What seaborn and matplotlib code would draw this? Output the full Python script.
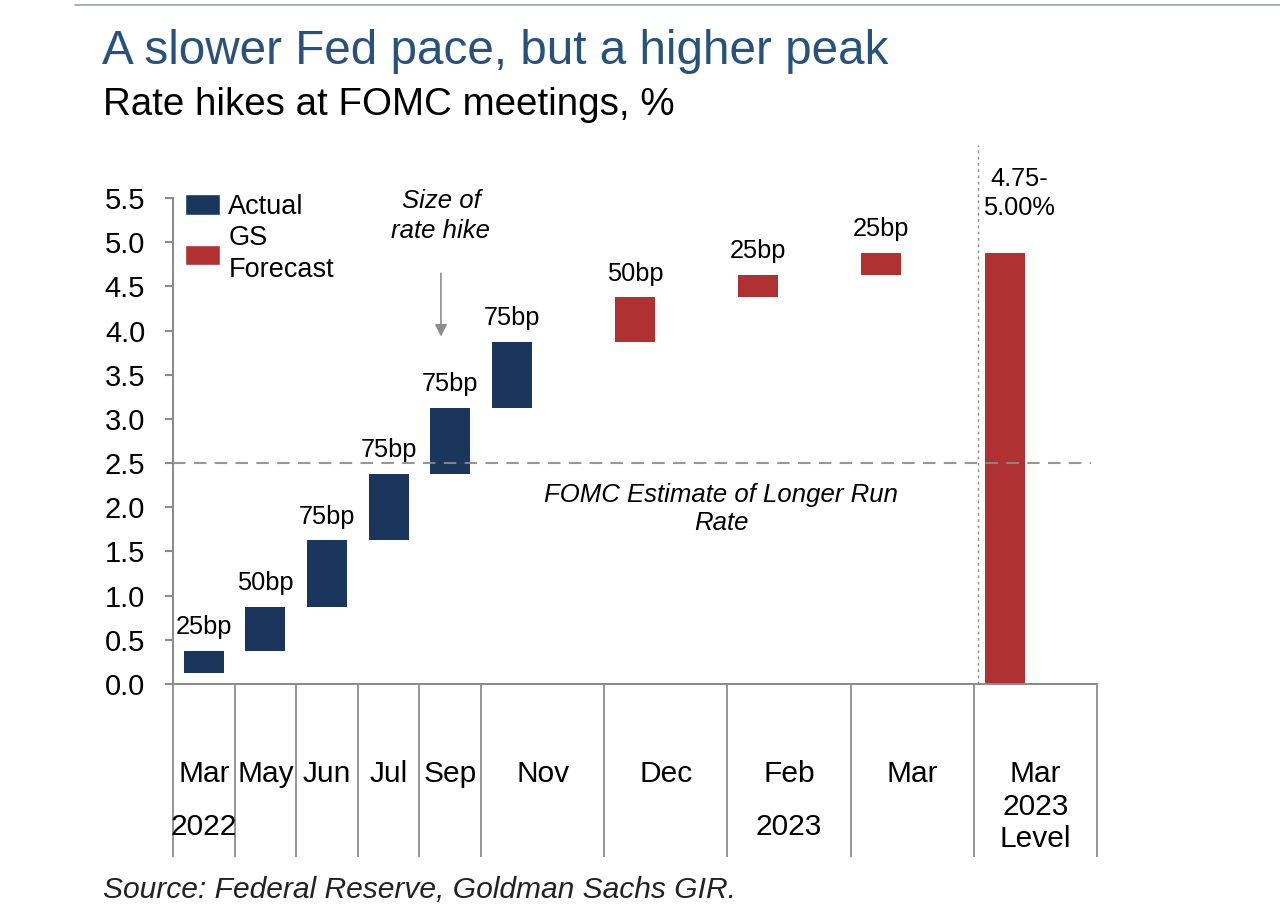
import numpy as np
import pandas as pd
import seaborn as sns
import matplotlib
matplotlib.use("Agg")
import matplotlib.pyplot as plt
from matplotlib.patches import Patch
from matplotlib.lines import Line2D
import matplotlib.transforms as mtransforms

# --- data ---
months = ["Mar", "May", "Jun", "Jul", "Sep", "Nov", "Dec", "Feb", "Mar", "Mar\n2023\nLevel"]
hike_bp = [25, 50, 75, 75, 75, 75, 50, 25, 25]
kind = ["Actual"] * 6 + ["GS Forecast"] * 3
start_level = 0.125          # midpoint of 0-0.25% before the first hike
longer_run = 2.5             # FOMC longer run estimate
level_text = "4.75-\n5.00%"
years = {"2022": 0, "2023": 7}   # index of month under which the year sits

# --- layout ---
slot_w = [1, 1, 1, 1, 1, 2, 2, 2, 2, 2]
bar_w = 0.65
navy = "#1b365d"
red = "#b03131"
grey = "#8c8c8c"

edges = np.concatenate([[0], np.cumsum(slot_w)])
bar_x = edges[:-1] + 0.5
slot_mid = edges[:-1] + np.array(slot_w) / 2

tops = start_level + np.cumsum(hike_bp) / 100
bottoms = tops - np.array(hike_bp) / 100
level = tops[-1]

df = pd.DataFrame({"pos": bar_x[:-1], "hike": np.array(hike_bp) / 100,
                   "bottom": bottoms, "top": tops, "kind": kind})
df_level = pd.DataFrame({"pos": [bar_x[-1]], "hike": [level], "bottom": [0.0]})

sns.set_theme(style="white")
plt.rcParams["font.family"] = ["Liberation Sans", "DejaVu Sans"]
plt.rcParams["text.color"] = "black"

fig = plt.figure(figsize=(12.8, 9.23), dpi=100)
ax = fig.add_axes([173 / 1280, 1 - 684 / 923, 924 / 1280, 539 / 923])

act = df[df["kind"] == "Actual"]
fc = pd.concat([df[df["kind"] == "GS Forecast"], df_level], ignore_index=True)
for part, col in [(act, navy), (fc, red)]:
    spacing = np.diff(part["pos"].values).min()
    sns.barplot(data=part, x="pos", y="hike", bottom=part["bottom"].values,
                native_scale=True, width=bar_w / spacing, color=col,
                saturation=1, errorbar=None, linewidth=0, ax=ax)

ax.set_xlim(0, 15)
ax.set_ylim(0, 6.1)
ax.set_xlabel("")
ax.set_ylabel("")

# axes styling
for s in ["top", "right"]:
    ax.spines[s].set_visible(False)
for s in ["left", "bottom"]:
    ax.spines[s].set_color(grey)
    ax.spines[s].set_linewidth(1.5)
ax.spines["left"].set_bounds(0, 5.5)
ax.set_yticks(np.arange(0, 5.51, 0.5))
ax.set_yticklabels([f"{v:.1f}" for v in np.arange(0, 5.51, 0.5)])
ax.tick_params(axis="y", left=True, length=6, width=1.5, color=grey,
               pad=14, labelsize=21, labelcolor="black")
ax.set_xticks(slot_mid)
ax.set_xticklabels(months)
ax.tick_params(axis="x", bottom=False, length=0, pad=55, labelsize=21.5,
               labelcolor="black")
for lbl in ax.get_xticklabels():
    lbl.set_linespacing(1.2)

# category separators below the axis
trans = mtransforms.blended_transform_factory(ax.transData, ax.transAxes)
ax.vlines(edges, -0.321, 0, transform=trans, color=grey, lw=1.3, clip_on=False)
for yr, i in years.items():
    ax.text(slot_mid[i], -0.265, yr, transform=trans, ha="center", va="center",
            fontsize=21.5)

# reference lines
ax.axhline(longer_run, xmin=0, xmax=14.9 / 15, color=grey, lw=1.5,
           dashes=(6, 4), zorder=5, alpha=0.9)
ax.axvline(13.07, color=grey, lw=1, ls=(0, (2, 2.5)), zorder=1)

# hike size labels
for x, t, bp in zip(bar_x, tops, hike_bp):
    ax.text(x, t + 0.27, f"{bp}bp", ha="center", va="center", fontsize=18.3)
ax.text(13.73, 5.55, level_text, ha="center", va="center", fontsize=18.3,
        linespacing=1.3)

# annotations
ax.text(4.35, 5.3, "Size of\nrate hike", ha="center", va="center",
        fontsize=18.5, style="italic", linespacing=1.3)
ax.annotate("", xy=(4.35, 3.9), xytext=(4.35, 4.68),
            arrowprops=dict(arrowstyle="-|>", color=grey, lw=1.2,
                            mutation_scale=18))
ax.text(8.9, 1.98, "FOMC Estimate of Longer Run\nRate", ha="center",
        va="center", fontsize=18.5, style="italic", linespacing=1.25)

# legend
handles = [Patch(facecolor=navy), Patch(facecolor=red)]
ax.legend(handles, ["Actual", "GS\nForecast"], loc="upper left",
          bbox_to_anchor=(0.013, 0.909), frameon=False, fontsize=19.5,
          borderpad=0, borderaxespad=0, handlelength=1.3, handleheight=0.8,
          handletextpad=0.3, labelspacing=0.2)
for t in ax.get_legend().get_texts():
    t.set_linespacing(1.3)

# titles and source
fig.add_artist(Line2D([75 / 1280, 1], [1 - 5 / 923] * 2, color="#9aa4ad", lw=1.2))
fig.text(102 / 1280, 1 - 52 / 923, "A slower Fed pace, but a higher peak",
         fontsize=34.3, color="#29527a", va="center")
fig.text(103 / 1280, 1 - 105 / 923, "Rate hikes at FOMC meetings, %",
         fontsize=27.7, color="black", va="center")
fig.text(103 / 1280, 1 - 890 / 923, "Source: Federal Reserve, Goldman Sachs GIR.",
         fontsize=21.6, style="italic", color="#222222", va="center")

fig.savefig("out.png", dpi=100)
